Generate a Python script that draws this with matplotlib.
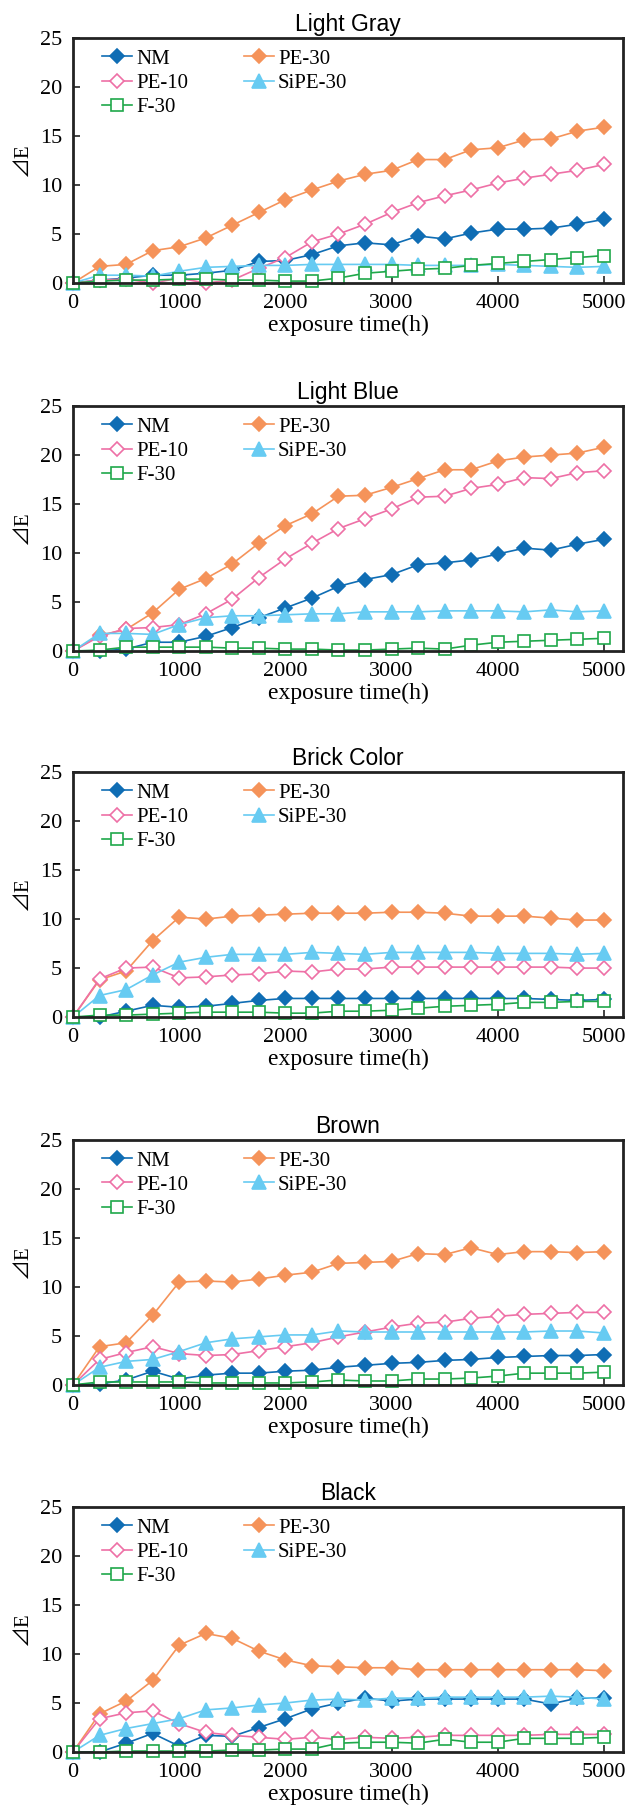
import matplotlib
matplotlib.use("Agg")
import matplotlib.pyplot as plt

# exposure time (h), one reading every 250 h
hours = list(range(0, 5001, 250))

panel_titles = ["Light Gray", "Light Blue", "Brick Color", "Brown", "Black"]
series_names = ["NM", "PE-30", "PE-10", "SiPE-30", "F-30"]

# Light Gray
gray_nm = [0, 0.3, 0.5, 0.8, 0.8, 1.0, 1.3, 2.2, 2.3, 2.9, 3.8, 4.1, 3.9, 4.8, 4.5, 5.1, 5.5, 5.5, 5.6, 6.0, 6.5]
gray_pe30 = [0, 1.7, 1.9, 3.3, 3.7, 4.6, 5.9, 7.2, 8.5, 9.5, 10.4, 11.1, 11.5, 12.6, 12.6, 13.6, 13.8, 14.6, 14.7, 15.5, 15.9]
gray_pe10 = [0, 0.3, 0.4, 0.0, 0.5, 0.0, 0.3, 1.5, 2.6, 4.2, 5.0, 6.0, 7.2, 8.2, 8.9, 9.5, 10.2, 10.7, 11.1, 11.5, 12.1]
gray_sipe30 = [0, 0.8, 0.8, 0.7, 1.2, 1.6, 1.7, 1.8, 1.8, 1.9, 1.9, 1.9, 1.9, 1.8, 1.8, 1.8, 1.9, 1.8, 1.7, 1.6, 1.7]
gray_f30 = [0, 0.2, 0.3, 0.3, 0.4, 0.4, 0.3, 0.3, 0.2, 0.2, 0.5, 1.0, 1.2, 1.4, 1.5, 1.8, 2.0, 2.2, 2.4, 2.6, 2.8]

# Light Blue
blue_nm = [0, 0.0, 0.2, 0.9, 0.9, 1.5, 2.4, 3.4, 4.4, 5.4, 6.6, 7.3, 7.8, 8.8, 9.0, 9.3, 9.9, 10.5, 10.3, 10.9, 11.4]
blue_pe30 = [0, 1.6, 2.2, 3.9, 6.3, 7.4, 8.9, 11.0, 12.8, 14.0, 15.8, 15.9, 16.7, 17.6, 18.5, 18.5, 19.4, 19.8, 20.0, 20.2, 20.8]
blue_pe10 = [0, 1.5, 2.3, 2.4, 2.7, 3.8, 5.3, 7.5, 9.4, 11.0, 12.5, 13.5, 14.5, 15.7, 15.8, 16.6, 17.0, 17.7, 17.6, 18.2, 18.4]
blue_sipe30 = [0, 1.8, 1.8, 1.7, 2.7, 3.4, 3.6, 3.6, 3.7, 3.8, 3.8, 4.0, 4.0, 4.0, 4.1, 4.1, 4.1, 4.0, 4.2, 4.0, 4.1]
blue_f30 = [0, 0.1, 0.4, 0.4, 0.4, 0.4, 0.3, 0.3, 0.2, 0.2, 0.1, 0.1, 0.2, 0.3, 0.2, 0.6, 0.9, 1.0, 1.1, 1.2, 1.3]

# Brick Color
brick_nm = [0, 0.0, 0.6, 1.2, 1.0, 1.1, 1.4, 1.7, 1.9, 1.9, 1.9, 1.9, 1.9, 1.9, 1.9, 1.9, 1.9, 1.9, 1.8, 1.7, 1.8]
brick_pe30 = [0, 3.8, 4.7, 7.8, 10.2, 10.0, 10.3, 10.4, 10.5, 10.6, 10.6, 10.6, 10.7, 10.7, 10.6, 10.3, 10.3, 10.3, 10.1, 9.9, 9.9]
brick_pe10 = [0, 3.9, 5.0, 5.1, 4.0, 4.1, 4.3, 4.4, 4.7, 4.6, 4.9, 4.9, 5.1, 5.1, 5.1, 5.1, 5.1, 5.1, 5.1, 5.0, 5.0]
brick_sipe30 = [0, 2.2, 2.8, 4.3, 5.6, 6.1, 6.4, 6.4, 6.4, 6.6, 6.5, 6.4, 6.6, 6.6, 6.6, 6.6, 6.5, 6.5, 6.5, 6.4, 6.5]
brick_f30 = [0, 0.2, 0.2, 0.3, 0.4, 0.5, 0.5, 0.5, 0.4, 0.4, 0.6, 0.6, 0.7, 0.9, 1.1, 1.2, 1.3, 1.5, 1.5, 1.6, 1.6]

# Brown
brown_nm = [0, 0.1, 0.5, 1.4, 0.6, 1.0, 1.2, 1.2, 1.4, 1.5, 1.8, 2.0, 2.2, 2.3, 2.5, 2.6, 2.8, 2.9, 3.0, 3.0, 3.1]
brown_pe30 = [0, 3.9, 4.3, 7.1, 10.5, 10.6, 10.5, 10.8, 11.2, 11.5, 12.4, 12.5, 12.6, 13.4, 13.3, 14.0, 13.3, 13.6, 13.6, 13.5, 13.6]
brown_pe10 = [0, 2.6, 3.3, 3.9, 3.2, 3.0, 3.1, 3.5, 3.9, 4.3, 4.9, 5.4, 5.9, 6.3, 6.4, 6.8, 7.0, 7.2, 7.3, 7.4, 7.4]
brown_sipe30 = [0, 1.8, 2.4, 2.6, 3.4, 4.3, 4.7, 4.9, 5.1, 5.1, 5.5, 5.4, 5.4, 5.4, 5.4, 5.4, 5.4, 5.4, 5.5, 5.5, 5.3]
brown_f30 = [0, 0.3, 0.3, 0.3, 0.3, 0.2, 0.2, 0.2, 0.2, 0.3, 0.5, 0.4, 0.4, 0.6, 0.6, 0.7, 0.9, 1.2, 1.2, 1.2, 1.3]

# Black
black_nm = [0, 0.0, 0.9, 1.9, 0.6, 1.7, 1.6, 2.5, 3.4, 4.4, 5.0, 5.5, 5.2, 5.4, 5.4, 5.4, 5.4, 5.4, 4.9, 5.5, 5.5]
black_pe30 = [0, 3.9, 5.2, 7.3, 10.9, 12.1, 11.6, 10.3, 9.4, 8.8, 8.7, 8.6, 8.6, 8.4, 8.4, 8.4, 8.4, 8.4, 8.4, 8.4, 8.3]
black_pe10 = [0, 3.4, 4.0, 4.2, 2.9, 2.0, 1.7, 1.5, 1.3, 1.5, 1.3, 1.5, 1.4, 1.5, 1.7, 1.7, 1.7, 1.7, 1.8, 1.8, 1.8]
black_sipe30 = [0, 1.7, 2.4, 2.9, 3.4, 4.3, 4.5, 4.8, 5.0, 5.3, 5.4, 5.3, 5.5, 5.5, 5.6, 5.6, 5.6, 5.6, 5.7, 5.6, 5.4]
black_f30 = [0, 0.0, 0.1, 0.1, 0.1, 0.1, 0.2, 0.2, 0.3, 0.3, 0.9, 1.0, 1.0, 0.9, 1.3, 1.0, 1.0, 1.4, 1.4, 1.4, 1.5]

panel_data = [
    [gray_nm, gray_pe30, gray_pe10, gray_sipe30, gray_f30],
    [blue_nm, blue_pe30, blue_pe10, blue_sipe30, blue_f30],
    [brick_nm, brick_pe30, brick_pe10, brick_sipe30, brick_f30],
    [brown_nm, brown_pe30, brown_pe10, brown_sipe30, brown_f30],
    [black_nm, black_pe30, black_pe10, black_sipe30, black_f30],
]

# style per series: colour, marker, marker size, filled?
styles = {
    "NM": ("#0f6db4", "D", 7, True),
    "PE-30": ("#f5935a", "D", 7, True),
    "PE-10": ("#ee70a6", "D", 7, False),
    "SiPE-30": ("#67cbf2", "^", 9.5, True),
    "F-30": ("#1fa84a", "s", 9, False),
}

serif = ["Liberation Serif", "Noto Sans CJK JP", "DejaVu Sans"]
plt.rcParams["font.family"] = serif

fig = plt.figure(figsize=(6.25, 18.12), dpi=100)

# axes bottoms in figure fraction
bottoms = [0.8438, 0.6407, 0.4387, 0.2357, 0.0331]

for title, series, bottom in zip(panel_titles, panel_data, bottoms):
    ax = fig.add_axes([0.1168, bottom, 0.88, 0.1352])
    handles = {}
    for name, values in zip(series_names, series):
        color, marker, ms, filled = styles[name]
        (line,) = ax.plot(
            hours, values, color=color, lw=1.2, marker=marker, markersize=ms,
            markerfacecolor=color if filled else "white",
            markeredgecolor=color, markeredgewidth=1.2, clip_on=False,
            label=name,
        )
        handles[name] = line

    ax.set_xlim(0, 5180)
    ax.set_ylim(0, 25)
    ax.set_xticks(range(0, 5001, 1000))
    ax.set_yticks(range(0, 26, 5))
    ax.tick_params(direction="in", length=5, width=1.2, labelsize=16, color="#222222")
    ax.tick_params(axis="x", pad=8)
    ax.tick_params(axis="y", pad=8)
    for sp in ax.spines.values():
        sp.set_linewidth(2)
        sp.set_color("#222222")

    ax.set_title(title, fontsize=16.5, family="Liberation Sans", pad=5)
    ax.set_ylabel("⊿E", fontsize=15, labelpad=5)
    ax.set_xlabel("exposure time(h)", fontsize=17, labelpad=1)

    # column-wise order so that rows read NM/PE-30, PE-10/SiPE-30, F-30
    order = ["NM", "PE-10", "F-30", "PE-30", "SiPE-30"]
    ax.legend([handles[n] for n in order], order, ncol=2, loc="upper left",
              bbox_to_anchor=(0.053, 0.955), frameon=False, fontsize=15,
              handlelength=1.45, handletextpad=0.2, labelspacing=0.22,
              columnspacing=2.65, borderpad=0, borderaxespad=0)

fig.savefig("out.png", dpi=100)
